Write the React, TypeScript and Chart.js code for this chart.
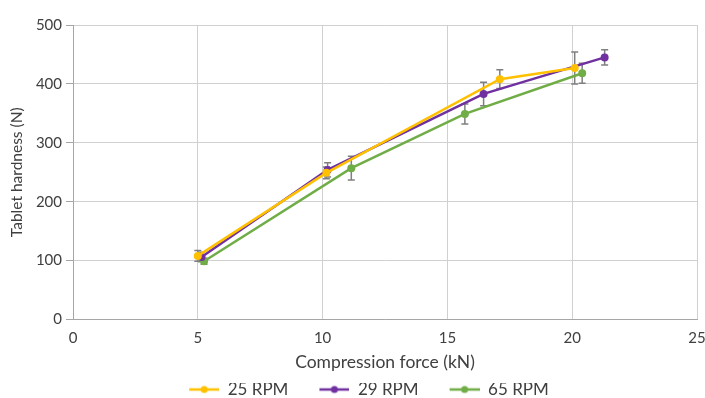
import React, { useEffect, useRef } from "react";
import { Chart, registerables } from "chart.js";

Chart.register(...registerables);

const seriesNames = ["25 RPM", "29 RPM", "65 RPM"];
const seriesColors = ["#FFC000", "#7030A0", "#70AD47"];

const force25 = [5.0, 10.15, 17.1, 20.1];
const hardness25 = [108, 249, 408, 427];
const error25 = [9, 10, 16, 27];

const force29 = [5.15, 10.2, 16.45, 21.3];
const hardness29 = [106, 254, 383, 445];
const error29 = [8, 12, 20, 13];

const force65 = [5.25, 11.15, 15.7, 20.4];
const hardness65 = [99, 257, 349, 418];
const error65 = [5, 20, 17, 17];

const xTicks = [0, 5, 10, 15, 20, 25];
const yTicks = [0, 100, 200, 300, 400, 500];

const FONT = "Lato, 'Open Sans', sans-serif";
const TEXT = "#404040";

function makeMarker(color: string): HTMLCanvasElement {
  const c = document.createElement("canvas");
  c.width = 63;
  c.height = 10;
  const g = c.getContext("2d")!;
  g.strokeStyle = color;
  g.lineWidth = 2.5;
  g.beginPath();
  g.moveTo(33, 5);
  g.lineTo(63, 5);
  g.stroke();
  g.fillStyle = color;
  g.beginPath();
  g.arc(48, 5, 3.5, 0, Math.PI * 2);
  g.fill();
  return c;
}

export default function App() {
  const ref = useRef<HTMLCanvasElement | null>(null);

  useEffect(() => {
    if (!ref.current) return;
    const xs = [force25, force29, force65];
    const ys = [hardness25, hardness29, hardness65];
    const es = [error25, error29, error65];
    const markers = seriesColors.map(makeMarker);

    const errorBars = {
      id: "errorBars",
      beforeDatasetsDraw(chart: any) {
        const ctx = chart.ctx;
        const xS = chart.scales.x;
        const yS = chart.scales.y;
        ctx.save();
        ctx.strokeStyle = "#7F7F7F";
        ctx.lineWidth = 1.5;
        es.forEach((errs, d) => {
          errs.forEach((e, i) => {
            const px = xS.getPixelForValue(xs[d][i]);
            const top = yS.getPixelForValue(ys[d][i] + e);
            const bot = yS.getPixelForValue(ys[d][i] - e);
            ctx.beginPath();
            ctx.moveTo(px, top);
            ctx.lineTo(px, bot);
            ctx.moveTo(px - 3.5, top);
            ctx.lineTo(px + 3.5, top);
            ctx.moveTo(px - 3.5, bot);
            ctx.lineTo(px + 3.5, bot);
            ctx.stroke();
          });
        });
        ctx.restore();
      },
    };

    const chart = new Chart(ref.current, {
      type: "scatter",
      data: {
        datasets: seriesNames.map((name, d) => ({
          label: name,
          data: xs[d].map((x, i) => ({ x, y: ys[d][i] })),
          showLine: true,
          borderColor: seriesColors[d],
          backgroundColor: seriesColors[d],
          borderWidth: 2.5,
          pointRadius: 4,
          pointHoverRadius: 4,
          pointBorderWidth: 0,
          tension: 0,
        })),
      },
      plugins: [errorBars],
      options: {
        animation: false,
        responsive: false,
        layout: { padding: { left: 0, right: 0, top: 25, bottom: -10 } },
        plugins: {
          tooltip: { enabled: false },
          legend: {
            position: "bottom",
            labels: {
              usePointStyle: true,
              pointStyleWidth: 63,
              padding: -2,
              color: TEXT,
              font: { family: FONT, size: 17 },
              generateLabels: () =>
                seriesNames.map((n, i) => ({
                  text: n,
                  pointStyle: markers[i],
                  fillStyle: seriesColors[i],
                  strokeStyle: seriesColors[i],
                  lineWidth: 0,
                  fontColor: TEXT,
                  hidden: false,
                  datasetIndex: i,
                })),
            },
          },
        },
        scales: {
          x: {
            type: "linear",
            min: 0,
            max: 25,
            afterBuildTicks: (s: any) => {
              s.ticks = xTicks.map((v) => ({ value: v }));
            },
            afterFit: (s: any) => {
              s.height = 398 + 10 - 319.5 - s.chart.legend.height;
              s.paddingRight = 8;
              s.paddingLeft = 0;
            },
            grid: { color: "#D0D0D0", lineWidth: 1, drawTicks: false },
            border: { color: "#A6A6A6", width: 1 },
            ticks: { color: TEXT, font: { family: FONT, size: 15 }, padding: 10 },
            title: {
              display: true,
              text: "Compression force (kN)",
              color: TEXT,
              font: { family: FONT, size: 17.5 },
              padding: { top: 2, bottom: 10 },
            },
          },
          y: {
            type: "linear",
            min: 0,
            max: 500,
            afterBuildTicks: (s: any) => {
              s.ticks = yTicks.map((v) => ({ value: v }));
            },
            afterFit: (s: any) => {
              s.width = 73;
            },
            grid: { color: "#D0D0D0", lineWidth: 1, tickColor: "#A6A6A6", tickLength: 7 },
            border: { color: "#A6A6A6", width: 1 },
            ticks: { color: TEXT, font: { family: FONT, size: 15 }, padding: 4 },
            title: {
              display: true,
              text: "Tablet hardness (N)",
              color: TEXT,
              font: { family: FONT, size: 15.5 },
              padding: { top: 8, bottom: 4 },
            },
          },
        },
      },
    } as any);
    return () => chart.destroy();
  }, []);

  return (
    <div style={{ position: "fixed", left: 0, top: 0, width: 705, height: 398, background: "#fff" }}>
      <canvas ref={ref} width={705} height={398} style={{ width: 705, height: 398, display: "block" }} />
    </div>
  );
}
